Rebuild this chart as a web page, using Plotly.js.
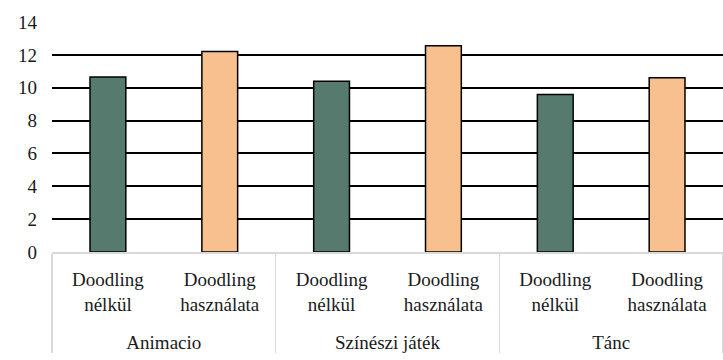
<!DOCTYPE html>
<html>
<head>
<meta charset="utf-8">
<script src="https://cdn.plot.ly/plotly-3.0.1.min.js"></script>
<style>html,body{margin:0;padding:0;background:#fff;}#chart{width:723px;height:360px;}</style>
</head>
<body>
<div id="chart"></div>
<script>
const groups = ["Animacio", "Színészi játék", "Tánc"];
const subLabels = ["Doodling<br>nélkül", "Doodling<br>használata"];
const valuesNelkul = [10.65, 10.4, 9.59];
const valuesHasznalata = [12.2, 12.55, 10.6];
const colors = ["#577A6E", "#F9C08F"];

const xGroups = [], xSubs = [], yVals = [], barColors = [];
groups.forEach((g, i) => {
  xGroups.push("<br>" + g, "<br>" + g);
  xSubs.push(subLabels[0], subLabels[1]);
  yVals.push(valuesNelkul[i], valuesHasznalata[i]);
  barColors.push(colors[0], colors[1]);
});

const trace = {
  type: "bar",
  x: [xGroups, xSubs],
  y: yVals,
  marker: { color: barColors, line: { color: "#000", width: 1.5 } },
  width: 0.32,
  hoverinfo: "none"
};

const font = { family: "Liberation Serif, DejaVu Serif, serif", size: 19, color: "#1a1a1a" };

Plotly.newPlot("chart", [trace], {
  width: 723, height: 360,
  margin: { l: 52, r: 0, t: 22, b: 108 },
  paper_bgcolor: "#fff", plot_bgcolor: "#fff",
  showlegend: false,
  font: font,
  xaxis: {
    type: "multicategory",
    showline: true, linecolor: "#d9d9d9", linewidth: 1.5,
    showdividers: true, dividercolor: "#d9d9d9", dividerwidth: 1.5,
    ticks: "", tickfont: font, ticklabelstandoff: 10,
    showgrid: false
  },
  yaxis: {
    range: [0, 14], dtick: 2, tick0: 0,
    showgrid: true, gridcolor: "#000", gridwidth: 2,
    zeroline: false, showline: false,
    ticks: "", ticklabelstandoff: 14,
    tickfont: font
  }
}, { displayModeBar: false, staticPlot: true });
</script>
</body>
</html>
